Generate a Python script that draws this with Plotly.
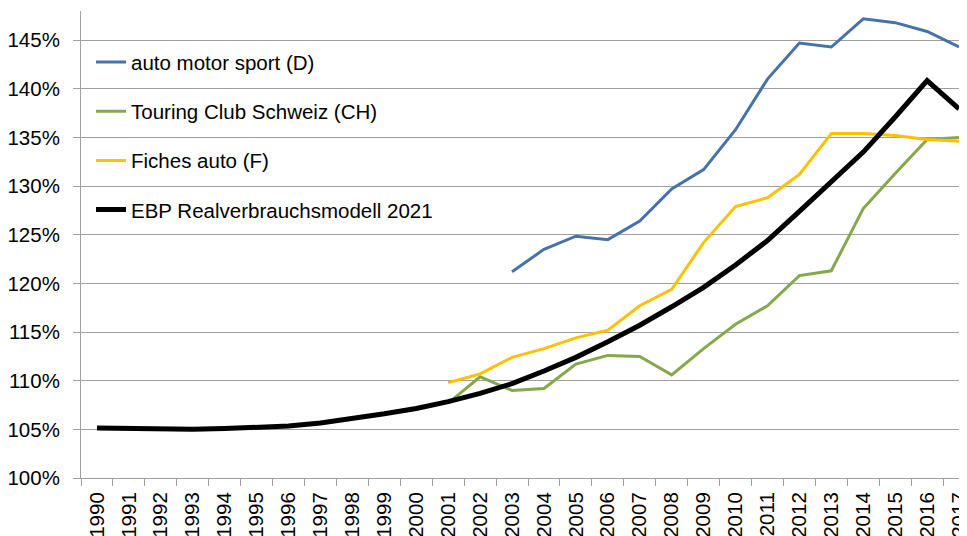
import plotly.graph_objects as go

years = [str(y) for y in range(1990, 2018)]

ams = [None]*13 + [121.2, 123.5, 124.85, 124.5, 126.4, 129.7, 131.7, 135.8, 141.0,
                   144.7, 144.3, 147.2, 146.8, 145.9, 144.3]
tcs = [None]*11 + [107.7, 110.4, 109.0, 109.2, 111.7, 112.6, 112.5, 110.6, 113.3,
                   115.8, 117.7, 120.8, 121.3, 127.7, 131.3, 134.8, 135.0]
fiches = [None]*11 + [109.8, 110.7, 112.4, 113.3, 114.4, 115.2, 117.7, 119.4, 124.2,
                      127.9, 128.8, 131.2, 135.4, 135.4, 135.2, 134.8, 134.6]
ebp = [105.14, 105.07, 105.02, 105.02, 105.08, 105.18, 105.34, 105.65, 106.1, 106.6,
       107.15, 107.85, 108.7, 109.7, 111.0, 112.4, 114.0, 115.7, 117.6, 119.6,
       121.9, 124.4, 127.4, 130.4, 133.5, 137.1, 140.85, 137.95]

series = [
    ("auto motor sport (D)", ams, "#4672AA", 3),
    ("Touring Club Schweiz (CH)", tcs, "#86A84C", 3),
    ("Fiches auto (F)", fiches, "#FFC000", 3),
    ("EBP Realverbrauchsmodell 2021", ebp, "#000000", 5),
]

FONT = "Liberation Sans, Arial, sans-serif"
GRID = "#A0A0A0"

fig = go.Figure()
for name, vals, color, w in series:
    fig.add_trace(go.Scatter(
        x=years, y=vals, name=name, mode="lines", legendgroup=name,
        line=dict(color=color, width=w, shape="linear"),
        connectgaps=False,
    ))

fig.update_layout(
    width=967, height=536,
    margin=dict(l=73, r=0, t=3, b=66, autoexpand=False),
    paper_bgcolor="white", plot_bgcolor="white",
    font=dict(family=FONT, size=20.5, color="#000000"),
    showlegend=True,
    legend=dict(
        x=0.0112, y=0.933, xanchor="left", yanchor="top",
        bgcolor="rgba(0,0,0,0)", borderwidth=0,
        traceorder="grouped", tracegroupgap=19.5,
        font=dict(family=FONT, size=20.5, color="#000000"),
    ),
    xaxis=dict(
        type="category", range=[-0.5, 27.5],
        tickmode="array", tickvals=years, ticktext=years,
        tickson="boundaries", ticks="outside", ticklen=7, tickcolor=GRID,
        tickangle=-90, showgrid=False, showline=True, linecolor=GRID, linewidth=1,
        tickfont=dict(family=FONT, size=20.5, color="#000000"),
        ticklabelstandoff=5,
        zeroline=False, automargin=False,
    ),
    yaxis=dict(
        range=[100, 148], dtick=5, tick0=100, ticksuffix="%",
        ticks="outside", ticklen=7, tickcolor=GRID,
        showgrid=True, gridcolor=GRID, gridwidth=1,
        showline=True, linecolor=GRID, linewidth=1, zeroline=False,
        tickfont=dict(family=FONT, size=20.5, color="#000000"),
        ticklabelstandoff=9, automargin=False,
    ),
)

fig.write_html("out.html")
